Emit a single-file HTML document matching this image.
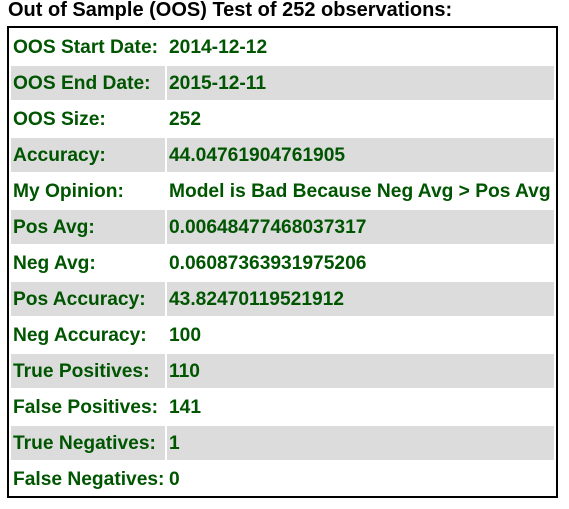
<!DOCTYPE html>
<html><head><meta charset="utf-8"><style>
body{margin:0;width:569px;height:509px;background:#fff;font-family:"Liberation Sans",sans-serif;font-weight:bold;position:relative;overflow:hidden}
#title{position:absolute;left:8px;top:0px;font-size:20px;color:#000;line-height:21px}
#tbl{position:absolute;left:7px;top:26px;width:547px;height:468px;border:2px solid #000}
.row{position:absolute;left:2px;width:543px;height:34px}
.c{position:absolute;top:0;height:34px;line-height:34px;padding-top:1px;font-size:19.2px;color:#005500;padding-left:2px;white-space:nowrap;box-sizing:border-box}
.c1{left:0;width:154px}.c2{left:156px;width:387px}
.g .c{background:#dcdcdc}
</style></head><body>
<div id="title">Out of Sample (OOS) Test of 252 observations:</div>
<div id="tbl"></div>
<script>
const labels=["OOS Start Date:","OOS End Date:","OOS Size:","Accuracy:","My Opinion:","Pos Avg:","Neg Avg:","Pos Accuracy:","Neg Accuracy:","True Positives:","False Positives:","True Negatives:","False Negatives:"];
const values=["2014-12-12","2015-12-11","252","44.04761904761905","Model is Bad Because Neg Avg > Pos Avg","0.00648477468037317","0.06087363931975206","43.82470119521912","100","110","141","1","0"];
const tbl=document.getElementById('tbl');
labels.forEach((l,i)=>{
  const r=document.createElement('div');
  r.className='row'+(i%2?' g':'');
  r.style.top=(2+i*36)+'px';
  
  
  const a=document.createElement('div');a.className='c c1';a.textContent=l;
  
  
  const b=document.createElement('div');b.className='c c2';b.textContent=values[i];
  
  
  r.appendChild(a);r.appendChild(b);tbl.appendChild(r);
});
</script>
</body></html>
